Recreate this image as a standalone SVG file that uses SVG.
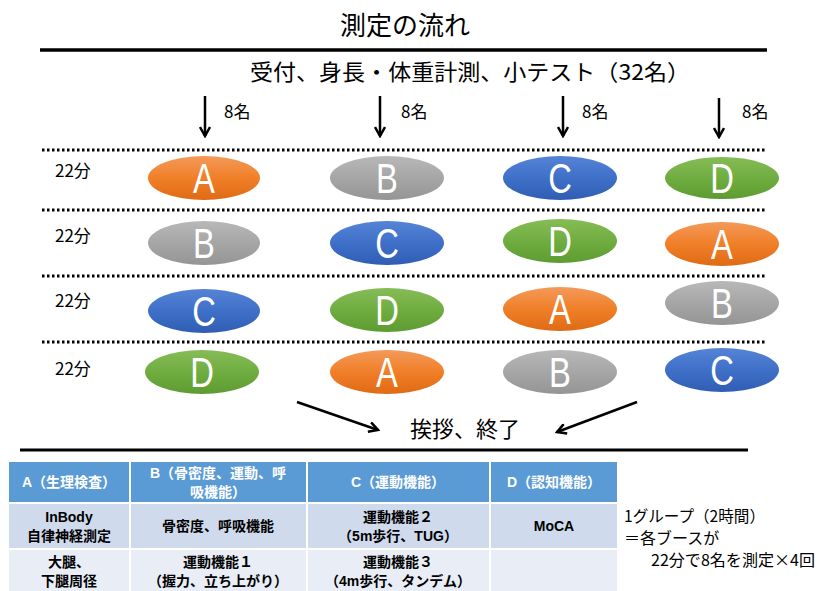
<svg xmlns="http://www.w3.org/2000/svg" width="821" height="591" viewBox="0 0 821 591">
<defs>
<linearGradient id="gO" x1="0" y1="0" x2="0" y2="1"><stop offset="0" stop-color="#F39A5A"/><stop offset="0.5" stop-color="#F07F28"/><stop offset="1" stop-color="#E06A15"/></linearGradient>
<linearGradient id="gG" x1="0" y1="0" x2="0" y2="1"><stop offset="0" stop-color="#B8B8B8"/><stop offset="0.5" stop-color="#A6A6A6"/><stop offset="1" stop-color="#959595"/></linearGradient>
<linearGradient id="gB" x1="0" y1="0" x2="0" y2="1"><stop offset="0" stop-color="#5584D6"/><stop offset="0.5" stop-color="#3F70C8"/><stop offset="1" stop-color="#2F5DB3"/></linearGradient>
<linearGradient id="gD" x1="0" y1="0" x2="0" y2="1"><stop offset="0" stop-color="#86BC56"/><stop offset="0.5" stop-color="#70AD41"/><stop offset="1" stop-color="#5E9B30"/></linearGradient>
<marker id="ah" viewBox="0 0 12 12" refX="10" refY="6" markerWidth="12" markerHeight="12" markerUnits="userSpaceOnUse" orient="auto">
<polyline points="1,1 10,6 1,11" fill="none" stroke="#000" stroke-width="2.5"/>
</marker>
</defs>
<style>
text{font-family:"Liberation Sans","Noto Sans CJK JP",sans-serif;}
.jp{font-family:"Noto Sans CJK JP","Liberation Sans",sans-serif;}
.lbl{font-size:17px;fill:#000;}
.let{font-size:42px;fill:#fff;text-anchor:middle;font-family:"Liberation Sans",sans-serif;}
.dot{stroke:#000;stroke-width:3;stroke-dasharray:2.5 2.5;fill:none;}
.arr{stroke:#000;stroke-width:2.5;fill:none;marker-end:url(#ah);}
.th{font-size:14px;font-weight:bold;fill:#fff;text-anchor:middle;}
.td{font-size:14px;font-weight:bold;fill:#000;text-anchor:middle;}
.cellh{fill:#5B9BD5;stroke:#fff;stroke-width:2;}
.cell1{fill:#CFDAEC;stroke:#fff;stroke-width:2;}
.cell2{fill:#E8EDF6;stroke:#fff;stroke-width:2;}
.note{font-size:16px;fill:#000;}
</style>
<rect width="821" height="591" fill="#fff"/>
<g id="title"><text class="jp" x="405" y="35" font-size="26" text-anchor="middle">測定の流れ</text></g>
<line x1="40" y1="50" x2="767" y2="50" stroke="#000" stroke-width="3.5"/>
<g id="reception"><text class="jp" x="250" y="80" font-size="22" textLength="440" lengthAdjust="spacingAndGlyphs">受付、身長・体重計測、小テスト（32名）</text></g>
<g id="connectors">
<line class="arr" x1="205" y1="96" x2="205" y2="136"/>
<line class="arr" x1="380" y1="96" x2="380" y2="136"/>
<line class="arr" x1="563" y1="96" x2="563" y2="136"/>
<line class="arr" x1="719" y1="98" x2="719" y2="137"/>
<line class="arr" x1="297" y1="402" x2="378" y2="430"/>
<line class="arr" x1="637" y1="402" x2="557" y2="432"/>
</g>
<g id="counts">
<text class="jp lbl" x="224" y="118">8名</text>
<text class="jp lbl" x="401" y="118">8名</text>
<text class="jp lbl" x="582" y="118">8名</text>
<text class="jp lbl" x="742" y="118">8名</text>
</g>
<g id="dividers">
<line class="dot" x1="42" y1="150" x2="766" y2="150"/>
<line class="dot" x1="42" y1="210" x2="766" y2="210"/>
<line class="dot" x1="42" y1="276" x2="766" y2="276"/>
<line class="dot" x1="42" y1="342" x2="766" y2="342"/>
</g>
<g id="times">
<text class="jp lbl" x="55" y="177">22分</text>
<text class="jp lbl" x="55" y="242">22分</text>
<text class="jp lbl" x="55" y="307">22分</text>
<text class="jp lbl" x="55" y="375">22分</text>
</g>
<g id="r1a"><ellipse cx="204" cy="178" rx="56" ry="22" fill="url(#gO)"/><text class="let" transform="translate(204,193) scale(0.78,1)">A</text></g>
<g id="r1b"><ellipse cx="387" cy="178" rx="57" ry="22" fill="url(#gG)"/><text class="let" transform="translate(387,193) scale(0.78,1)">B</text></g>
<g id="r1c"><ellipse cx="560" cy="178" rx="57" ry="22" fill="url(#gB)"/><text class="let" transform="translate(560,193) scale(0.78,1)">C</text></g>
<g id="r1d"><ellipse cx="722" cy="178" rx="57" ry="21" fill="url(#gD)"/><text class="let" transform="translate(722,193) scale(0.78,1)">D</text></g>
<g id="r2b"><ellipse cx="204" cy="243" rx="56" ry="22" fill="url(#gG)"/><text class="let" transform="translate(204,258) scale(0.78,1)">B</text></g>
<g id="r2c"><ellipse cx="387" cy="243" rx="57" ry="22" fill="url(#gB)"/><text class="let" transform="translate(387,258) scale(0.78,1)">C</text></g>
<g id="r2d"><ellipse cx="560" cy="241" rx="57" ry="22" fill="url(#gD)"/><text class="let" transform="translate(560,256) scale(0.78,1)">D</text></g>
<g id="r2a"><ellipse cx="722" cy="244" rx="57" ry="22" fill="url(#gO)"/><text class="let" transform="translate(722,259) scale(0.78,1)">A</text></g>
<g id="r3c"><ellipse cx="204" cy="311" rx="56" ry="22" fill="url(#gB)"/><text class="let" transform="translate(204,326) scale(0.78,1)">C</text></g>
<g id="r3d"><ellipse cx="387" cy="310" rx="57" ry="22" fill="url(#gD)"/><text class="let" transform="translate(387,325) scale(0.78,1)">D</text></g>
<g id="r3a"><ellipse cx="560" cy="309" rx="57" ry="22" fill="url(#gO)"/><text class="let" transform="translate(560,324) scale(0.78,1)">A</text></g>
<g id="r3b"><ellipse cx="722" cy="303" rx="57" ry="22" fill="url(#gG)"/><text class="let" transform="translate(722,318) scale(0.78,1)">B</text></g>
<g id="r4d"><ellipse cx="202" cy="372" rx="57" ry="22" fill="url(#gD)"/><text class="let" transform="translate(202,387) scale(0.78,1)">D</text></g>
<g id="r4a"><ellipse cx="387" cy="372" rx="57" ry="22" fill="url(#gO)"/><text class="let" transform="translate(387,387) scale(0.78,1)">A</text></g>
<g id="r4b"><ellipse cx="560" cy="372" rx="57" ry="22" fill="url(#gG)"/><text class="let" transform="translate(560,387) scale(0.78,1)">B</text></g>
<g id="r4c"><ellipse cx="722" cy="370" rx="57" ry="22" fill="url(#gB)"/><text class="let" transform="translate(722,385) scale(0.78,1)">C</text></g>
<g id="end"><text class="jp" x="410" y="437" font-size="22">挨拶、終了</text></g>
<line x1="20" y1="450" x2="748" y2="450" stroke="#000" stroke-width="3"/>
<g id="table">
<rect class="cellh" x="8" y="461" width="122" height="42"/>
<rect class="cellh" x="130" y="461" width="177" height="42"/>
<rect class="cellh" x="307" y="461" width="183" height="42"/>
<rect class="cellh" x="490" y="461" width="128" height="42"/>
<rect class="cell1" x="8" y="503" width="122" height="46"/>
<rect class="cell1" x="130" y="503" width="177" height="46"/>
<rect class="cell1" x="307" y="503" width="183" height="46"/>
<rect class="cell1" x="490" y="503" width="128" height="46"/>
<rect class="cell2" x="8" y="549" width="122" height="44"/>
<rect class="cell2" x="130" y="549" width="177" height="44"/>
<rect class="cell2" x="307" y="549" width="183" height="44"/>
<rect class="cell2" x="490" y="549" width="128" height="44"/>
<text class="th" x="69" y="487">A（生理検査）</text>
<text class="th" x="218" y="478">B（骨密度、運動、呼</text>
<text class="th" x="218" y="497">吸機能）</text>
<text class="th" x="398" y="487">C（運動機能）</text>
<text class="th" x="554" y="487">D（認知機能）</text>
<text class="td" x="69" y="522">InBody</text>
<text class="td" x="69" y="541">自律神経測定</text>
<text class="td" x="218" y="531">骨密度、呼吸機能</text>
<text class="td" x="398" y="522">運動機能２</text>
<text class="td" x="398" y="541">（5m歩行、TUG）</text>
<text class="td" x="554" y="531">MoCA</text>
<text class="td" x="69" y="567">大腿、</text>
<text class="td" x="69" y="586">下腿周径</text>
<text class="td" x="218" y="567">運動機能１</text>
<text class="td" x="218" y="586">（握力、立ち上がり）</text>
<text class="td" x="398" y="567">運動機能３</text>
<text class="td" x="398" y="586">（4m歩行、タンデム）</text>
</g>
<g id="note">
<text class="jp note" x="624" y="522" textLength="141" lengthAdjust="spacingAndGlyphs">1グループ（2時間）</text>
<text class="jp note" x="624" y="544">＝各ブースが</text>
<text class="jp note" x="651" y="566" textLength="164" lengthAdjust="spacingAndGlyphs">22分で8名を測定×4回</text>
</g>
</svg>
